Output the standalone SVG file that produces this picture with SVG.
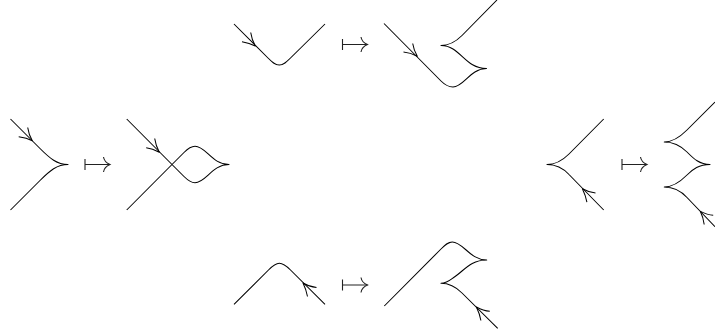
<svg xmlns="http://www.w3.org/2000/svg" width="715" height="335" viewBox="0 0 715 335">
<style>
.s{fill:none;stroke:#000;stroke-width:1.05;stroke-linecap:butt;stroke-linejoin:round}
.m{fill:none;stroke:#222;stroke-width:1.1}
</style>
<defs>
<g id="mapsto"><path class="m" d="M0,-5.500V5.500M0,0H25"/><path class="m" d="M18.500,-7.500C19,-4 21.500,-1.500 25,0C21.500,1.500 19,4 18.500,7.500"/></g>
</defs>
<rect width="715" height="335" fill="#fff"/>
<g id="connectors">
<use href="#mapsto" x="85" y="164.500"/>
<use href="#mapsto" x="342.500" y="44.500"/>
<use href="#mapsto" x="342.500" y="285"/>
<use href="#mapsto" x="622" y="164.500"/>
</g>
<g id="left-source">
<path class="s" d="M10.500,119L40,148.500C50,158.500 57,164.500 68,164.500C57,164.500 50,170.500 40,180.500L10.500,210"/>
<path class="s" d="M27.700,127.500C28.500,133 30,137 32.300,140.800C28,138.500 24,137.500 18.700,136.800"/>
</g>
<g id="left-target">
<path class="s" d="M126.700,119L172,164.500L184,176.500C188,180.500 191,182.700 195,182.700C206,182.700 212,164.500 229,164.500C212,164.500 206,146.300 195,146.300C191,146.300 188,148.500 184,152.500L172,164.500L126.700,210"/>
<path class="s" d="M154.700,138.500C155.500,144 157,148 159.300,152.300C155,150 151.500,148.500 146.200,147.800"/>
</g>
<g id="top-source">
<path class="s" d="M234,24L268,58C272,62 275,65 279.300,65C283.500,65 286.500,62 290.500,58L325,24"/>
<path class="s" d="M250.700,32.500C251.500,38 253,42 255.300,46C251,43.700 247,42.500 242,41.700"/>
</g>
<g id="top-target">
<path class="s" d="M384,23.500L441,81C445,85 448.500,87 453,87C464,87 470,68.500 486.500,68.500C470,68.500 464,56 453,49C449,46.500 446,45.500 441,45.500C450,45.500 456,41.500 462,35.500L497,0"/>
<path class="s" d="M412.700,43.500C413.500,48.500 415,52.500 417.300,56.300C413,54 409,52.500 403.500,52"/>
</g>
<g id="right-source">
<path class="s" d="M603.700,119L569,154C563,160 556,164.500 547,164.500C556,164.500 563,168 569,174.500L603.700,210"/>
<path class="s" d="M595.500,192.900C590.500,192.500 586.500,191 582.400,188.700C584.500,193 586,197 586.900,202.200"/>
</g>
<g id="right-target">
<path class="s" d="M715,102L687,130C681,136 674,142 664.300,142C674,142 681,146 687,152C693,158 699,164.500 710,164.500C699,164.500 693,169 687,175C681,181 674,187 664.300,187C674,187 681,191 687,197.500L715,226.700"/>
<path class="s" d="M713.200,215.200C708,215 704.500,213.500 700.400,211.400C702.500,215.500 703.500,219.500 704.200,224.500"/>
</g>
<g id="bottom-source">
<path class="s" d="M234,304.300L268.500,270C272.500,266 275.500,263.300 279.300,263.300C283.500,263.300 286.500,266 290.500,270L325,304.300"/>
<path class="s" d="M316.500,287.500C311.500,287 307,285.500 303,283C305,287 306.500,291.500 307.500,296.500"/>
</g>
<g id="bottom-target">
<path class="s" d="M384.300,306L441,249C445,245 448,242 452.300,242C463,242 470,260 486.700,260C470,260 464,271 453,278C449,281 446,283.300 441,283.300C450,283.300 456,287 462,293L497.700,328.300"/>
<path class="s" d="M489.800,311.200C484.500,311 480.500,309.300 476.400,307C478.500,311.300 480,315.500 480.900,320.500"/>
</g>
</svg>
